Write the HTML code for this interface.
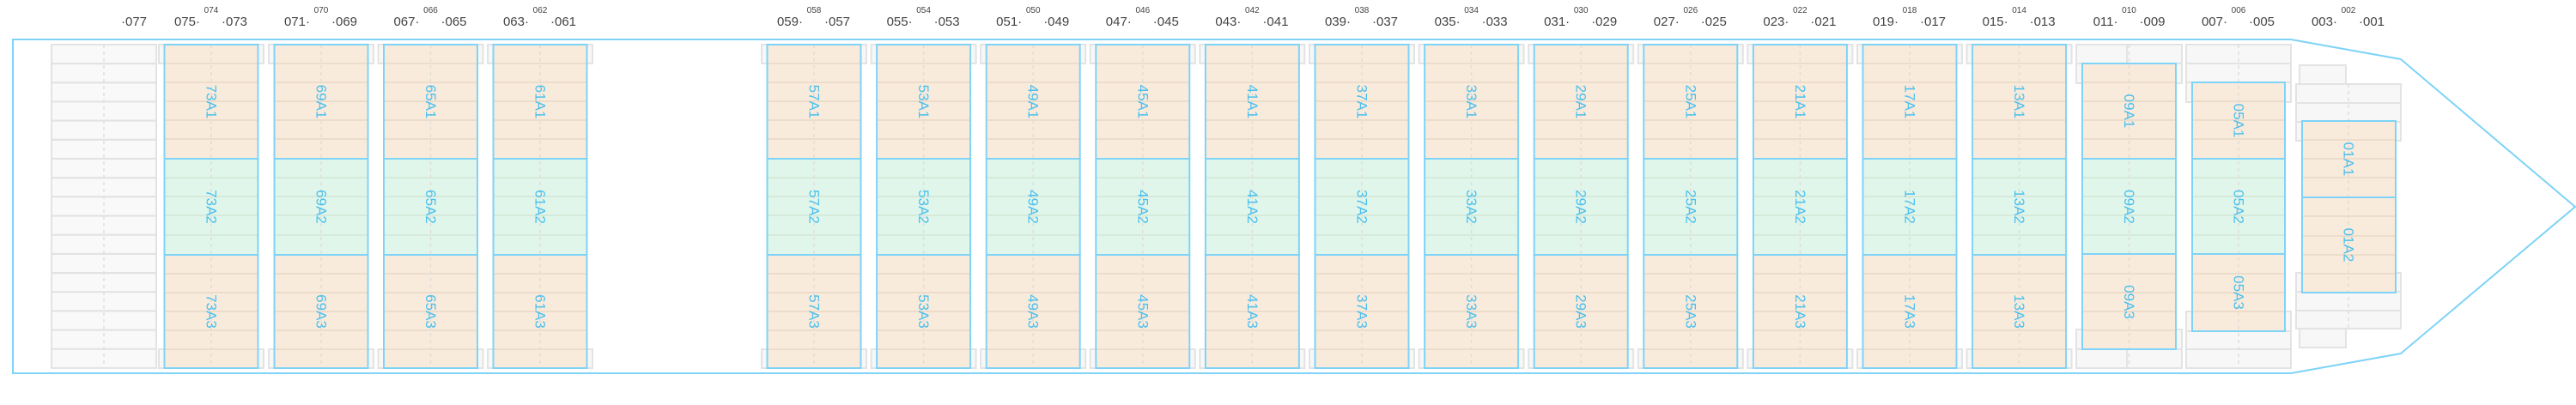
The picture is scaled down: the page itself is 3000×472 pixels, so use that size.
<!DOCTYPE html>
<html><head><meta charset="utf-8"><style>
html,body{margin:0;padding:0;background:#fff;}
svg{display:block;}
.h{font-family:"Liberation Sans",sans-serif;font-size:15px;fill:#444;}
.s{font-family:"Liberation Sans",sans-serif;font-size:10px;fill:#444;text-anchor:middle;}
.l{font-family:"Liberation Sans",sans-serif;font-size:17px;fill:#4cc0ee;text-anchor:middle;dominant-baseline:central;}
</style></head><body>
<svg width="3000" height="472" viewBox="0 0 3000 472" xmlns="http://www.w3.org/2000/svg">
<defs>
<g id="tiers" stroke="#ecdccb" stroke-width="2">
</g>
<g id="bay">
  <rect x="-61" y="52" width="122" height="22" fill="#f7f7f7" stroke="#e3e3e3" stroke-width="2"/>
  <rect x="-61" y="407" width="122" height="22" fill="#f7f7f7" stroke="#e3e3e3" stroke-width="2"/>
  <rect x="-54.5" y="52" width="109" height="133" fill="#f9ebdc"/>
  <rect x="-54.5" y="185" width="109" height="112" fill="#e0f6ea"/>
  <rect x="-54.5" y="297" width="109" height="132" fill="#f9ebdc"/>
  <g stroke="#ecdccb" stroke-width="2">
    <line x1="-54" x2="54" y1="74" y2="74"/><line x1="-54" x2="54" y1="96" y2="96"/><line x1="-54" x2="54" y1="118" y2="118"/><line x1="-54" x2="54" y1="140" y2="140"/><line x1="-54" x2="54" y1="162" y2="162"/>
    <line x1="-54" x2="54" y1="319" y2="319"/><line x1="-54" x2="54" y1="341" y2="341"/><line x1="-54" x2="54" y1="363" y2="363"/><line x1="-54" x2="54" y1="385" y2="385"/><line x1="-54" x2="54" y1="407" y2="407"/>
  </g>
  <g stroke="#d6eadc" stroke-width="2">
    <line x1="-54" x2="54" y1="207" y2="207"/><line x1="-54" x2="54" y1="229" y2="229"/><line x1="-54" x2="54" y1="251" y2="251"/><line x1="-54" x2="54" y1="274" y2="274"/>
  </g>
  <line x1="0" x2="0" y1="52" y2="429" stroke="#e2ddd6" stroke-width="1.5" stroke-dasharray="4 4"/>
  <g fill="none" stroke="#7fd3f7" stroke-width="2">
    <rect x="-54.5" y="52" width="109" height="133"/>
    <rect x="-54.5" y="185" width="109" height="112"/>
    <rect x="-54.5" y="297" width="109" height="132"/>
  </g>
</g>
</defs>

<!-- hull -->
<polygon points="15,46 2668,46 2796,69 2999,241 2796,412 2668,435 15,435" fill="none" stroke="#7fd3f7" stroke-width="2"/>

<!-- gray column 77 -->
<g fill="#f9f9f9" stroke="#e3e3e3" stroke-width="2">
<rect x="60" y="52" width="122" height="22"/><rect x="60" y="74.2" width="122" height="22"/><rect x="60" y="96.4" width="122" height="22"/><rect x="60" y="118.5" width="122" height="22"/><rect x="60" y="140.7" width="122" height="22"/><rect x="60" y="162.9" width="122" height="22"/><rect x="60" y="185.1" width="122" height="22"/><rect x="60" y="207.3" width="122" height="22"/><rect x="60" y="229.4" width="122" height="22"/><rect x="60" y="251.6" width="122" height="22"/><rect x="60" y="273.8" width="122" height="22"/><rect x="60" y="296" width="122" height="22"/><rect x="60" y="318.2" width="122" height="22"/><rect x="60" y="340.3" width="122" height="22"/><rect x="60" y="362.5" width="122" height="22"/><rect x="60" y="384.7" width="122" height="22"/><rect x="60" y="406.9" width="122" height="22"/>
</g>
<line x1="121" x2="121" y1="52" y2="429" stroke="#e0e0e0" stroke-width="1.5" stroke-dasharray="4 4"/>

<!-- full bays -->
<use href="#bay" x="246"/><use href="#bay" x="374"/><use href="#bay" x="501.5"/><use href="#bay" x="629"/>
<use href="#bay" x="948"/><use href="#bay" x="1075.6"/><use href="#bay" x="1203.2"/><use href="#bay" x="1330.8"/><use href="#bay" x="1458.4"/><use href="#bay" x="1586"/><use href="#bay" x="1713.6"/><use href="#bay" x="1841.2"/><use href="#bay" x="1968.8"/><use href="#bay" x="2096.4"/><use href="#bay" x="2224"/><use href="#bay" x="2351.6"/>

<!-- bay 09 -->
<g fill="#f7f7f7" stroke="#e3e3e3" stroke-width="2">
<rect x="2418" y="52" width="123" height="22"/><rect x="2418" y="74" width="123" height="23"/>
<rect x="2418" y="384" width="123" height="23"/><rect x="2418" y="407" width="123" height="22"/>
</g>
<line x1="2477" x2="2477" y1="52" y2="97" stroke="#e3e3e3" stroke-width="2"/>
<line x1="2477" x2="2477" y1="384" y2="429" stroke="#e3e3e3" stroke-width="2"/>
<rect x="2425" y="74" width="109" height="111" fill="#f9ebdc"/>
<rect x="2425" y="185" width="109" height="111" fill="#e0f6ea"/>
<rect x="2425" y="296" width="109" height="111" fill="#f9ebdc"/>
<g stroke="#ecdccb" stroke-width="2">
<line x1="2426" x2="2533" y1="96" y2="96"/><line x1="2426" x2="2533" y1="118" y2="118"/><line x1="2426" x2="2533" y1="140" y2="140"/><line x1="2426" x2="2533" y1="162" y2="162"/>
<line x1="2426" x2="2533" y1="319" y2="319"/><line x1="2426" x2="2533" y1="341" y2="341"/><line x1="2426" x2="2533" y1="363" y2="363"/><line x1="2426" x2="2533" y1="385" y2="385"/>
</g>
<g stroke="#d6eadc" stroke-width="2"><line x1="2426" x2="2533" y1="207" y2="207"/><line x1="2426" x2="2533" y1="229" y2="229"/><line x1="2426" x2="2533" y1="251" y2="251"/><line x1="2426" x2="2533" y1="274" y2="274"/></g>
<line x1="2479.5" x2="2479.5" y1="52" y2="429" stroke="#e2ddd6" stroke-width="1.5" stroke-dasharray="4 4"/>
<g fill="none" stroke="#7fd3f7" stroke-width="2">
<rect x="2425" y="74" width="109" height="111"/><rect x="2425" y="185" width="109" height="111"/><rect x="2425" y="296" width="109" height="111"/>
</g>

<!-- bay 05 -->
<g fill="#f7f7f7" stroke="#e3e3e3" stroke-width="2">
<rect x="2546" y="52" width="122" height="22"/><rect x="2546" y="74" width="122" height="22"/><rect x="2546" y="96" width="122" height="23"/>
<rect x="2546" y="363" width="122" height="23"/><rect x="2546" y="386" width="122" height="21"/><rect x="2546" y="407" width="122" height="22"/>
</g>
<rect x="2553" y="96" width="108" height="89" fill="#f9ebdc"/>
<rect x="2553" y="185" width="108" height="111" fill="#e0f6ea"/>
<rect x="2553" y="296" width="108" height="90" fill="#f9ebdc"/>
<g stroke="#ecdccb" stroke-width="2">
<line x1="2554" x2="2660" y1="118" y2="118"/><line x1="2554" x2="2660" y1="140" y2="140"/><line x1="2554" x2="2660" y1="162" y2="162"/>
<line x1="2554" x2="2660" y1="319" y2="319"/><line x1="2554" x2="2660" y1="341" y2="341"/><line x1="2554" x2="2660" y1="363" y2="363"/>
</g>
<g stroke="#d6eadc" stroke-width="2"><line x1="2554" x2="2660" y1="207" y2="207"/><line x1="2554" x2="2660" y1="229" y2="229"/><line x1="2554" x2="2660" y1="251" y2="251"/><line x1="2554" x2="2660" y1="274" y2="274"/></g>
<line x1="2607" x2="2607" y1="52" y2="429" stroke="#e2ddd6" stroke-width="1.5" stroke-dasharray="4 4"/>
<g fill="none" stroke="#7fd3f7" stroke-width="2">
<rect x="2553" y="96" width="108" height="89"/><rect x="2553" y="185" width="108" height="111"/><rect x="2553" y="296" width="108" height="90"/>
</g>

<!-- bay 01 -->
<g fill="#f7f7f7" stroke="#e3e3e3" stroke-width="2">
<rect x="2678" y="76" width="54" height="22"/><rect x="2678" y="383" width="54" height="22"/>
<rect x="2674" y="98" width="122" height="22"/><rect x="2674" y="120" width="122" height="22"/><rect x="2674" y="142" width="122" height="22"/>
<rect x="2674" y="318" width="122" height="22"/><rect x="2674" y="340" width="122" height="22"/><rect x="2674" y="362" width="122" height="21"/>
</g>
<rect x="2681" y="141" width="109" height="89" fill="#f9ebdc"/>
<rect x="2681" y="230" width="109" height="111" fill="#f9ebdc"/>
<g stroke="#ecdccb" stroke-width="2">
<line x1="2682" x2="2789" y1="163" y2="163"/><line x1="2682" x2="2789" y1="185" y2="185"/><line x1="2682" x2="2789" y1="207" y2="207"/>
<line x1="2682" x2="2789" y1="252" y2="252"/><line x1="2682" x2="2789" y1="275" y2="275"/><line x1="2682" x2="2789" y1="297" y2="297"/><line x1="2682" x2="2789" y1="319" y2="319"/>
</g>
<line x1="2735" x2="2735" y1="98" y2="384" stroke="#e2ddd6" stroke-width="1.5" stroke-dasharray="4 4"/>
<g fill="none" stroke="#7fd3f7" stroke-width="2">
<rect x="2681" y="141" width="109" height="89"/><rect x="2681" y="230" width="109" height="111"/>
</g>

<!-- bay labels -->
<g class="l">
<text transform="translate(246,118.5) rotate(90)">73A1</text><text transform="translate(246,241) rotate(90)">73A2</text><text transform="translate(246,363) rotate(90)">73A3</text>
<text transform="translate(374,118.5) rotate(90)">69A1</text><text transform="translate(374,241) rotate(90)">69A2</text><text transform="translate(374,363) rotate(90)">69A3</text>
<text transform="translate(501.5,118.5) rotate(90)">65A1</text><text transform="translate(501.5,241) rotate(90)">65A2</text><text transform="translate(501.5,363) rotate(90)">65A3</text>
<text transform="translate(629,118.5) rotate(90)">61A1</text><text transform="translate(629,241) rotate(90)">61A2</text><text transform="translate(629,363) rotate(90)">61A3</text>
<text transform="translate(948,118.5) rotate(90)">57A1</text><text transform="translate(948,241) rotate(90)">57A2</text><text transform="translate(948,363) rotate(90)">57A3</text>
<text transform="translate(1075.6,118.5) rotate(90)">53A1</text><text transform="translate(1075.6,241) rotate(90)">53A2</text><text transform="translate(1075.6,363) rotate(90)">53A3</text>
<text transform="translate(1203.2,118.5) rotate(90)">49A1</text><text transform="translate(1203.2,241) rotate(90)">49A2</text><text transform="translate(1203.2,363) rotate(90)">49A3</text>
<text transform="translate(1330.8,118.5) rotate(90)">45A1</text><text transform="translate(1330.8,241) rotate(90)">45A2</text><text transform="translate(1330.8,363) rotate(90)">45A3</text>
<text transform="translate(1458.4,118.5) rotate(90)">41A1</text><text transform="translate(1458.4,241) rotate(90)">41A2</text><text transform="translate(1458.4,363) rotate(90)">41A3</text>
<text transform="translate(1586,118.5) rotate(90)">37A1</text><text transform="translate(1586,241) rotate(90)">37A2</text><text transform="translate(1586,363) rotate(90)">37A3</text>
<text transform="translate(1713.6,118.5) rotate(90)">33A1</text><text transform="translate(1713.6,241) rotate(90)">33A2</text><text transform="translate(1713.6,363) rotate(90)">33A3</text>
<text transform="translate(1841.2,118.5) rotate(90)">29A1</text><text transform="translate(1841.2,241) rotate(90)">29A2</text><text transform="translate(1841.2,363) rotate(90)">29A3</text>
<text transform="translate(1968.8,118.5) rotate(90)">25A1</text><text transform="translate(1968.8,241) rotate(90)">25A2</text><text transform="translate(1968.8,363) rotate(90)">25A3</text>
<text transform="translate(2096.4,118.5) rotate(90)">21A1</text><text transform="translate(2096.4,241) rotate(90)">21A2</text><text transform="translate(2096.4,363) rotate(90)">21A3</text>
<text transform="translate(2224,118.5) rotate(90)">17A1</text><text transform="translate(2224,241) rotate(90)">17A2</text><text transform="translate(2224,363) rotate(90)">17A3</text>
<text transform="translate(2351.6,118.5) rotate(90)">13A1</text><text transform="translate(2351.6,241) rotate(90)">13A2</text><text transform="translate(2351.6,363) rotate(90)">13A3</text>
<text transform="translate(2479.5,129.5) rotate(90)">09A1</text><text transform="translate(2479.5,241) rotate(90)">09A2</text><text transform="translate(2479.5,352) rotate(90)">09A3</text>
<text transform="translate(2607,140.5) rotate(90)">05A1</text><text transform="translate(2607,241) rotate(90)">05A2</text><text transform="translate(2607,341) rotate(90)">05A3</text>
<text transform="translate(2735,185.5) rotate(90)">01A1</text><text transform="translate(2735,285.5) rotate(90)">01A2</text>
</g>

<!-- header labels -->
<g class="h">
<text x="141" y="30">·077</text>
<g text-anchor="end">
<text x="233" y="30">075·</text><text x="361" y="30">071·</text><text x="488.5" y="30">067·</text><text x="616" y="30">063·</text>
<text x="935" y="30">059·</text><text x="1062.6" y="30">055·</text><text x="1190.2" y="30">051·</text><text x="1317.8" y="30">047·</text><text x="1445.4" y="30">043·</text><text x="1573" y="30">039·</text><text x="1700.6" y="30">035·</text><text x="1828.2" y="30">031·</text><text x="1955.8" y="30">027·</text><text x="2083.4" y="30">023·</text><text x="2211" y="30">019·</text><text x="2338.6" y="30">015·</text><text x="2466.5" y="30">011·</text><text x="2594" y="30">007·</text><text x="2722" y="30">003·</text>
</g>
<text x="258" y="30">·073</text><text x="386" y="30">·069</text><text x="513.5" y="30">·065</text><text x="641" y="30">·061</text>
<text x="960" y="30">·057</text><text x="1087.6" y="30">·053</text><text x="1215.2" y="30">·049</text><text x="1342.8" y="30">·045</text><text x="1470.4" y="30">·041</text><text x="1598" y="30">·037</text><text x="1725.6" y="30">·033</text><text x="1853.2" y="30">·029</text><text x="1980.8" y="30">·025</text><text x="2108.4" y="30">·021</text><text x="2236" y="30">·017</text><text x="2363.6" y="30">·013</text><text x="2491.5" y="30">·009</text><text x="2619" y="30">·005</text><text x="2747" y="30">·001</text>
</g>
<g class="s">
<text x="246" y="15">074</text><text x="374" y="15">070</text><text x="501.5" y="15">066</text><text x="629" y="15">062</text>
<text x="948" y="15">058</text><text x="1075.6" y="15">054</text><text x="1203.2" y="15">050</text><text x="1330.8" y="15">046</text><text x="1458.4" y="15">042</text><text x="1586" y="15">038</text><text x="1713.6" y="15">034</text><text x="1841.2" y="15">030</text><text x="1968.8" y="15">026</text><text x="2096.4" y="15">022</text><text x="2224" y="15">018</text><text x="2351.6" y="15">014</text><text x="2479.5" y="15">010</text><text x="2607" y="15">006</text><text x="2735" y="15">002</text>
</g>
</svg>
</body></html>
